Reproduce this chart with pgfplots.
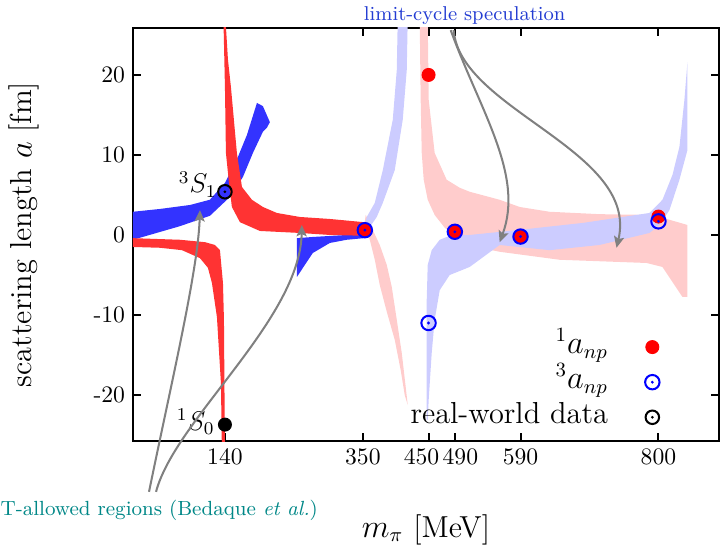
\documentclass[border=0pt]{standalone}
\usepackage{pgfplots}
\pgfplotsset{compat=1.18}
\usetikzlibrary{arrows.meta}
\definecolor{lcblue}{RGB}{35,60,210}
\definecolor{tealtext}{RGB}{0,135,135}
\definecolor{arrowgray}{RGB}{128,128,128}
\pgfdeclareplotmark{odot}{%
  \pgfpathcircle{\pgfpointorigin}{\pgfplotmarksize}%
  \pgfusepathqstroke
  \pgfpathcircle{\pgfpointorigin}{0.22\pgfplotmarksize}%
  \pgfusepathqfill
}
\begin{document}
\begin{tikzpicture}
\begin{axis}[
  at={(0,0)}, anchor=south west,
  scale only axis, width=260.4pt, height=183.6pt,
  xmin=0, xmax=892, ymin=-25.75, ymax=25.875,
  xtick={140,350,450,490,590,800},
  xticklabels={140,350,{450\hspace*{6.2pt}},{\hspace*{4.9pt}490},590,800},
  ytick={-20,-10,0,10,20},
  yticklabels={-20,-10,0,10,20},
  xtick pos=both, ytick pos=both,
  xticklabel pos=lower, yticklabel pos=left,
  tick align=inside, major tick length=3.5pt,
  axis line style={line width=1.1pt},
  every tick/.style={black, line width=0.9pt},
  tick label style={font=\fontsize{10.5}{12}\selectfont},
  label style={font=\fontsize{13.5}{16}\selectfont},
  xlabel={$m_\pi$ [MeV]},
  ylabel={scattering length $a$ [fm]},
  xlabel style={at={(axis description cs:0.5,-0.214)}, anchor=center},
  ylabel style={at={(axis description cs:-0.186,0.5)}, anchor=center},
  clip mode=individual,
  legend style={draw=none, fill=none, at={(axis description cs:0.911,0.003)}, anchor=south east,
    font=\fontsize{13.5}{16}\selectfont, column sep=16pt,
    nodes={inner sep=0.5pt, text height=10pt, text depth=4.6pt}, row sep=0pt},
  legend cell align=right,
  legend plot pos=right,
]
% light bands (right part)
\addplot[draw=none, fill=red!20, forget plot] coordinates {
 (354.4,2.5) (363.5,0.9) (375.7,-1.25) (386.4,-3.75) (394,-6.5) (401.6,-10.6) (409.2,-14.75) (415.2,-19) (418.3,-21.25)
 (413.7,-20) (407.6,-16.9) (398.5,-13.1) (386.4,-9.6) (375.7,-6.25) (368.1,-3.1) (360.5,-0.6) (351.4,0.9)};
\addplot[draw=none, fill=red!20, forget plot] coordinates {
 (436.5,27) (448.7,27) (450.2,16.9) (459.3,10.25) (477.6,6.9) (497.4,5.9) (512.6,5.4) (558.2,4.4) (588.6,3.5)
 (634.2,2.9) (710.3,2.6) (786.3,2.5) (816.7,1.9) (844.1,1.25) (844.1,-7.75) (836.5,-7.75) (806.1,-4.0)
 (781.7,-3.5) (649.4,-3.1) (558.2,-2.1) (527.8,-1.6) (497.4,-0.6) (474.6,0.9) (459.3,2.5) (448.7,4.4)
 (442.6,6.9) (439.6,10.25) (438,16.9) (436.5,27)};
\addplot[draw=none, fill=blue!20, forget plot] coordinates {
 (351.4,0.4) (355.9,2.25) (368.1,4) (380.3,8.1) (395.5,14.4) (401.6,20.6) (403.1,27)
 (418.3,27) (416.8,20.6) (410.7,14.4) (398.5,8.1) (380.3,4) (371.1,2.25) (357.5,0.6) (351.4,-0.25)};
\addplot[draw=none, fill=blue!20, forget plot] coordinates {
 (447.2,-23.1) (447.2,-14.4) (447.2,-8.1) (448.7,-3.75) (454.8,-1.9) (467,-0.6) (482.2,-0.1) (512.6,0)
 (584,0.6) (684.4,1.5) (786.3,2.75) (806.1,4.4) (821.3,7.5) (831.9,11) (839.5,16.9) (844.1,21.6)
 (844.1,10.6) (831.9,6.9) (816.7,3.1) (801.5,1.25) (786.3,0.25) (710.3,-1.25) (634.2,-1.9) (558.2,-1.25)
 (512.6,-4) (482.2,-5) (467,-6.9) (459.3,-10.6) (454.8,-14.75) (450.2,-20.6) (448.7,-23.1)};
% dark bands (left part)
\addplot[draw=none, fill=blue!80, forget plot] coordinates {
 (0,2.9) (41,3.25) (87,3.75) (117,4.4) (140,6.5) (158,9.4) (173.5,12.5) (188.7,16.5) (197.8,16.1) (208.4,14.1)
 (203.9,13.4) (197.8,12.9) (182.6,10.25) (167.4,7.25) (147.6,4.75) (117.2,2.4) (71.6,1.1) (0,-0.6)};
\addplot[draw=none, fill=blue!80, forget plot] coordinates {
 (249.5,-0.4) (273.8,-0.25) (325.5,0) (351.4,0.6) (351.4,-0.4) (325.5,-0.6) (299.7,-1) (273.8,-2.25) (249.5,-5.25)};
\addplot[draw=none, fill=red!80, forget plot] coordinates {
 (137.7,27) (140,18.5) (141.5,10.25) (146.8,6) (150.6,3.5) (162.8,1.6) (193.2,0.5) (254.1,0.25) (299.7,0) (351.4,-0.1)
 (351.4,1.6) (299.7,2.0) (254.1,2.25) (219.1,2.75) (197.8,3.5) (181.1,4.4) (165.9,6) (158.2,10.25) (149.1,18.5) (144.6,21.9) (140.8,27)};
\addplot[draw=none, fill=red!80, forget plot] coordinates {
 (0,-0.4) (71.6,-0.6) (109.6,-0.9) (124.8,-1.25) (132.4,-1.9) (137,-6) (138.5,-10.6) (140,-27)
 (135.4,-27) (133.9,-18.5) (127.8,-10.25) (120.2,-6) (114.1,-4.1) (102,-2.9) (74.6,-1.9) (41.2,-1.6) (0,-1.5)};
% data points
\addplot[only marks, mark=*, mark size=2.9pt, color=red] coordinates {
 (353,0.6) (450,20) (490,0.4) (590,-0.2) (800,2.3)};
\addlegendentry{$^1a_{np}$}
\addplot[only marks, mark=odot, mark size=3.2pt, color=blue, mark options={line width=0.9pt, fill=blue}] coordinates {
 (353,0.6) (450,-11) (490,0.4) (590,-0.2) (800,1.7)};
\addlegendentry{$^3a_{np}$}
\addplot[only marks, mark=odot, mark size=3pt, color=black, mark options={line width=0.9pt, fill=black}] coordinates {
 (140,5.4)};
\addlegendentry{real-world data}
\addplot[only marks, mark=*, mark size=2.9pt, color=black, forget plot] coordinates {(140,-23.7)};
% labels
\node[anchor=base east, inner sep=0pt, font=\fontsize{11.8}{14}\selectfont] at (axis cs:127.8,5.25) {$^3S_1$};
\node[anchor=base east, inner sep=0pt, font=\fontsize{11.8}{14}\selectfont] at (axis cs:124.8,-24.4) {$^1S_0$};
\node[anchor=base, inner sep=0pt, text=lcblue, font=\fontsize{8.9}{11}\selectfont] at (axis cs:505,26.75) {limit-cycle speculation};
\node[anchor=base west, inner sep=0pt, text=tealtext, font=\fontsize{9.1}{11}\selectfont] at (axis cs:-202.2,-35) {T-allowed regions (Bedaque \emph{et al.})};
% arrows
\draw[arrowgray, line width=0.9pt, -{Stealth[length=5pt, width=4.5pt, inset=1pt]}]
 (axis cs:24.4,-32.1) .. controls (axis cs:59.4,-18.1) and (axis cs:98.9,-4.4) .. (axis cs:102,3.1);
\draw[arrowgray, line width=0.9pt, -{Stealth[length=5pt, width=4.5pt, inset=1pt]}]
 (axis cs:35.1,-32.1) .. controls (axis cs:64,-23.1) and (axis cs:254.1,-10.6) .. (axis cs:257.1,1.25);
\draw[arrowgray, line width=0.9pt, -{Stealth[length=5pt, width=4.5pt, inset=1pt]}]
 (axis cs:483.7,25.6) .. controls (axis cs:527.8,15.6) and (axis cs:596.2,7.5) .. (axis cs:558.2,-0.9);
\draw[arrowgray, line width=0.9pt, -{Stealth[length=5pt, width=4.5pt, inset=1pt]}]
 (axis cs:488.2,25.6) .. controls (axis cs:497.4,15.6) and (axis cs:771.1,10.6) .. (axis cs:736.1,-1.6);
\end{axis}
\pgfresetboundingbox
\path[use as bounding box] (-59.1pt,-46.2pt) rectangle (260.9pt,196pt);
\end{tikzpicture}
\end{document}
